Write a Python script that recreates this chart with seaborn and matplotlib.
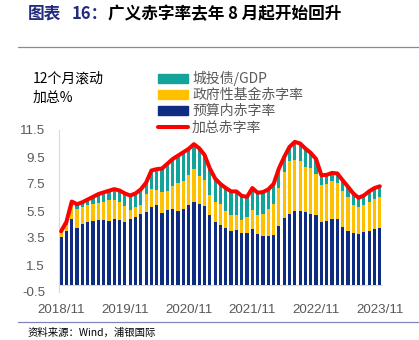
import matplotlib
matplotlib.use("Agg")
import matplotlib.pyplot as plt
import seaborn as sns
import pandas as pd
from matplotlib.lines import Line2D
from matplotlib.patches import Patch

# ---------------- data ----------------
months = pd.period_range("2018-11", "2023-11", freq="M").strftime("%Y/%m").tolist()

budget = [3.58, 4.05, 4.92, 4.25, 4.55, 4.66, 4.74, 4.80, 4.82, 4.78,
          4.91, 4.80, 4.68, 4.89, 5.08, 5.25, 5.43, 5.80, 5.93, 5.38,
          5.56, 5.63, 5.50, 5.63, 5.93, 6.17, 6.00, 5.85, 5.18, 4.67,
          4.43, 4.25, 4.00, 4.07, 3.86, 3.90, 4.13, 3.77, 3.68, 3.63,
          3.70, 4.40, 4.97, 5.28, 5.47, 5.50, 5.42, 5.31, 5.19, 4.65,
          4.79, 4.90, 4.93, 4.33, 4.02, 3.88, 3.80, 3.91, 4.03, 4.15,
          4.22]
fund = [0.37, 0.40, 0.93, 1.43, 1.27, 1.29, 1.28, 1.32, 1.38, 1.52,
        1.39, 1.35, 1.20, 0.71, 0.70, 0.68, 1.36, 1.36, 1.16, 1.53,
        1.43, 1.73, 2.10, 2.10, 2.22, 2.42, 2.07, 1.93, 1.54, 1.50,
        1.57, 1.23, 1.23, 1.16, 0.94, 1.16, 1.43, 1.42, 1.63, 2.00,
        2.35, 2.80, 3.43, 3.90, 3.83, 3.68, 3.34, 3.38, 3.08, 2.76,
        2.74, 2.80, 2.65, 2.63, 2.52, 2.05, 2.00, 2.02, 2.14, 2.22,
        2.32]
chengtou = [0.05, 0.25, 0.35, 0.32, 0.33, 0.40, 0.53, 0.63, 0.68, 0.70,
            0.82, 0.87, 0.92, 1.05, 1.02, 1.17, 0.81, 1.34, 1.51, 1.74,
            2.01, 1.99, 2.00, 2.12, 1.95, 1.86, 2.08, 1.87, 1.93, 1.73,
            1.50, 1.72, 1.72, 1.72, 1.82, 1.49, 1.64, 1.66, 1.59, 1.47,
            1.45, 1.45, 1.10, 1.07, 1.32, 1.32, 1.36, 1.11, 1.08, 0.74,
            0.65, 0.62, 0.70, 0.82, 0.76, 0.87, 0.68, 0.72, 0.79, 0.83,
            0.79]

tick_labels = ["2018/11", "2019/11", "2020/11", "2021/11", "2022/11", "2023/11"]
y_ticks = [-0.5, 1.5, 3.5, 5.5, 7.5, 9.5, 11.5]
legend_labels = ["城投债/GDP", "政府性基金赤字率", "预算内赤字率", "加总赤字率"]

# ---------------- style ----------------
TEAL = "#12A39B"
GOLD = "#FFC000"
NAVY = "#0E2D82"
RED = "#FF0000"
GRAY = "#595959"

sns.set_theme(style="white")
plt.rcParams['font.family'] = ['Noto Sans CJK SC', 'DejaVu Sans']

df = pd.DataFrame({"month": months, "budget": budget, "fund": fund, "ct": chengtou})
df["lvl2"] = df["budget"] + df["fund"]
df["total"] = df["lvl2"] + df["ct"]

W, H = 419, 340
fig = plt.figure(figsize=(W / 100, H / 100), dpi=100)
ax = fig.add_axes([59 / W, 48 / H, 324 / W, 162 / H])

common = dict(data=df, x="month", order=months, width=0.6, saturation=1,
              errorbar=None, linewidth=0, ax=ax)
sns.barplot(y="total", color=TEAL, **common)
sns.barplot(y="lvl2", color=GOLD, **common)
sns.barplot(y="budget", color=NAVY, **common)
sns.lineplot(data=df, x="month", y="total", sort=False, color=RED,
             linewidth=2.9, ax=ax, zorder=5)

ax.axhline(0, color="#D9D9D9", linewidth=0.8, zorder=0)

ax.set_xlim(-0.4, 60.6)
ax.set_ylim(-0.5, 11.5)
ax.set_xticks([months.index(t) for t in tick_labels])
ax.set_xticklabels(tick_labels)
ax.set_yticks(y_ticks)
ax.set_yticklabels([f"{v:.1f}" for v in y_ticks])
ax.set_xlabel("")
ax.set_ylabel("")
ax.tick_params(axis="both", length=0, labelsize=9.6, colors=GRAY)
ax.tick_params(axis="y", pad=10)
ax.tick_params(axis="x", pad=8.5)
for lab in ax.get_xticklabels() + ax.get_yticklabels():
    lab.set_fontfamily(["Liberation Sans", "DejaVu Sans"])

for s in ["top", "right", "bottom"]:
    ax.spines[s].set_visible(False)
ax.spines["left"].set_color("#D9D9D9")
ax.spines["left"].set_linewidth(0.8)

# legend
handles = [Patch(color=TEAL), Patch(color=GOLD), Patch(color=NAVY),
           Line2D([], [], color=RED, linewidth=2.9)]
leg = fig.legend(handles, legend_labels, loc="upper left",
                 bbox_to_anchor=(158 / W, 1 - 71 / H), frameon=False,
                 fontsize=10, handlelength=2.15, handleheight=0.58,
                 handletextpad=0.3, labelspacing=0.15, borderpad=0,
                 borderaxespad=0)
for t in leg.get_texts():
    t.set_color(GRAY)

# axis unit label
fig.text(33 / W, 1 - 79 / H, "12个月滚动", fontsize=10, color="black", va="center")
fig.text(33 / W, 1 - 98 / H, "加总%", fontsize=10, color="black", va="center")

# title
fig.text(28 / W, 1 - 14 / H, "图表", fontsize=12, weight="bold",
         color="#232B7E", va="center")
fig.text(72 / W, 1 - 14 / H, "16：", fontsize=12, weight="bold",
         color="#232B7E", va="center")
fig.text(108 / W, 1 - 14 / H, "广义赤字率去年 8 月起开始回升", fontsize=12,
         weight="bold", color="black", va="center")

# separator lines
fig.add_artist(Line2D([18 / W, 1], [1 - 46.5 / H] * 2, color="#8484BC",
                      linewidth=0.9, transform=fig.transFigure))
fig.add_artist(Line2D([18 / W, 1], [1 - 322 / H] * 2, color="#8484BC",
                      linewidth=0.9, transform=fig.transFigure))

# source
fig.text(28 / W, 1 - 333 / H, "资料来源：Wind，浦银国际", fontsize=7.5,
         color="black", va="center")

fig.savefig("out.png", dpi=100)
